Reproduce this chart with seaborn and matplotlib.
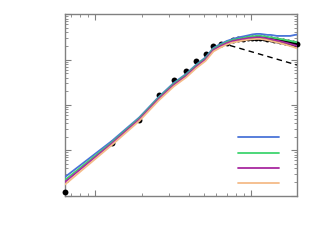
import numpy as np
import pandas as pd
import matplotlib
matplotlib.use("Agg")
import matplotlib.pyplot as plt
import seaborn as sns
from matplotlib.ticker import LogLocator, NullFormatter

sns.set_style("ticks")

# x grid (evenly spaced samples)
x = np.arange(1, 32) * 0.64

# reference points (black dots)
ref = [1.21, 14.2, 46.9, 161, 355, 560, 908, 1309, 1946, 2178, 2360, 2641,
       2780, 2850, 2923, 2998, 3030, 2998, 2951, 2893, 2806, 2710, 2641,
       2574, 2510, 2447, 2385, 2325, 2266, 2209, 2178]

blue = [2.56, 15.96, 52.7, 149.4, 304.3, 481, 779.6, 1113, 1804, 2210, 2574,
        2849, 3075, 3236, 3404, 3582, 3674, 3674, 3582, 3492, 3492, 3404,
        3319, 3319, 3319, 3319, 3319, 3319, 3404, 3492, 3546]
green = [2.20, 14.79, 50.1, 142, 289.3, 457, 741, 1057, 1714, 2101, 2446,
         2708, 2849, 2998, 3155, 3236, 3319, 3319, 3236, 3155, 3075, 2998,
         2923, 2849, 2777, 2708, 2640, 2574, 2509, 2446, 2409]
purple = [1.99, 14.06, 47.6, 134.9, 275, 434.5, 704, 1005, 1629, 1996, 2325,
          2574, 2708, 2849, 2953, 3029, 3075, 3075, 2998, 2893, 2806, 2708,
          2614, 2535, 2446, 2361, 2290, 2210, 2133, 2069, 1996]
orange = [1.75, 13.02, 44.1, 125, 254.8, 402.6, 652.5, 931, 1509, 1850, 2154,
          2385, 2509, 2640, 2735, 2806, 2849, 2849, 2777, 2681, 2574, 2484,
          2397, 2325, 2233, 2154, 2069, 1996, 1917, 1841, 1758]

# dashed 1/x reference
dash_x = [6.4, 19.84]
dash_y = [2346, 757]

series = [(blue, "#4a74d8"), (green, "#3ed46e"), (purple, "#a8289f"), (orange, "#f4bb88")]

fig = plt.figure(figsize=(3.25, 2.45), dpi=100)
ax = fig.add_axes([0.2, 0.202, 0.714, 0.740])
ax.set(xscale="log", yscale="log")

sns.lineplot(x=dash_x, y=dash_y, ax=ax, color="black", lw=1.0,
             linestyle=(0, (4, 3)), zorder=2)
sns.scatterplot(x=x, y=ref, ax=ax, color="black", s=18, linewidth=0,
                zorder=3, clip_on=False)
for vals, col in series:
    sns.lineplot(x=x, y=vals, ax=ax, color=col, lw=1.3, label=" ", zorder=4)

ax.set_xlim(x[0], x[-1])
ax.set_ylim(1, 1e4)

for axis in (ax.xaxis, ax.yaxis):
    axis.set_major_locator(LogLocator(base=10))
    axis.set_minor_locator(LogLocator(base=10, subs=np.arange(2, 10)))
    axis.set_major_formatter(NullFormatter())
    axis.set_minor_formatter(NullFormatter())
ax.tick_params(which="both", direction="in", top=True, right=True, color="#808080")
ax.tick_params(which="major", length=4, width=0.8)
ax.tick_params(which="minor", length=2, width=0.6)
for sp in ax.spines.values():
    sp.set_color("#808080")
    sp.set_linewidth(1.0)

ax.legend(loc="lower right", frameon=False, fontsize=8, handlelength=3.7,
          labelspacing=0.475, bbox_to_anchor=(1.0, -0.02), handletextpad=0.4)

fig.savefig("out.png", dpi=100)
